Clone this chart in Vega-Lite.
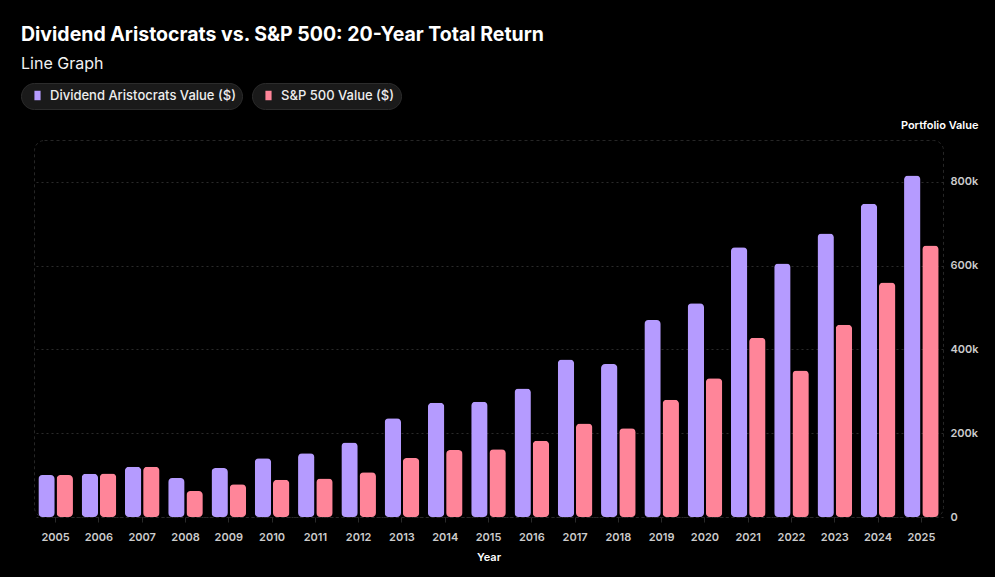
{
  "$schema": "https://vega.github.io/schema/vega-lite/v6.json",
  "width": 909,
  "height": 377,
  "autosize": {"type": "none"},
  "padding": {"left": 34, "top": 140, "right": 52, "bottom": 60},
  "background": "#000000",
  "title": {
    "text": "Dividend Aristocrats vs. S&P 500: 20-Year Total Return",
    "subtitle": "Line Graph",
    "anchor": "start",
    "frame": "group",
    "offset": 10,
    "dx": -13,
    "font": "Inter",
    "fontSize": 19.5,
    "fontWeight": "bold",
    "color": "#ffffff",
    "subtitleFont": "Inter",
    "subtitleFontSize": 16,
    "subtitleColor": "#f2f2f2",
    "subtitlePadding": 10
  },
  "data": {
    "values": [
      {"year": "2005", "series": "Dividend Aristocrats Value ($)", "value": 100000},
      {"year": "2005", "series": "S&P 500 Value ($)", "value": 100000},
      {"year": "2006", "series": "Dividend Aristocrats Value ($)", "value": 103000},
      {"year": "2006", "series": "S&P 500 Value ($)", "value": 104000},
      {"year": "2007", "series": "Dividend Aristocrats Value ($)", "value": 120000},
      {"year": "2007", "series": "S&P 500 Value ($)", "value": 120000},
      {"year": "2008", "series": "Dividend Aristocrats Value ($)", "value": 93000},
      {"year": "2008", "series": "S&P 500 Value ($)", "value": 62000},
      {"year": "2009", "series": "Dividend Aristocrats Value ($)", "value": 117000},
      {"year": "2009", "series": "S&P 500 Value ($)", "value": 78000},
      {"year": "2010", "series": "Dividend Aristocrats Value ($)", "value": 140000},
      {"year": "2010", "series": "S&P 500 Value ($)", "value": 89000},
      {"year": "2011", "series": "Dividend Aristocrats Value ($)", "value": 152000},
      {"year": "2011", "series": "S&P 500 Value ($)", "value": 92000},
      {"year": "2012", "series": "Dividend Aristocrats Value ($)", "value": 178000},
      {"year": "2012", "series": "S&P 500 Value ($)", "value": 107000},
      {"year": "2013", "series": "Dividend Aristocrats Value ($)", "value": 236000},
      {"year": "2013", "series": "S&P 500 Value ($)", "value": 141000},
      {"year": "2014", "series": "Dividend Aristocrats Value ($)", "value": 273000},
      {"year": "2014", "series": "S&P 500 Value ($)", "value": 160000},
      {"year": "2015", "series": "Dividend Aristocrats Value ($)", "value": 275000},
      {"year": "2015", "series": "S&P 500 Value ($)", "value": 162000},
      {"year": "2016", "series": "Dividend Aristocrats Value ($)", "value": 307000},
      {"year": "2016", "series": "S&P 500 Value ($)", "value": 182000},
      {"year": "2017", "series": "Dividend Aristocrats Value ($)", "value": 376000},
      {"year": "2017", "series": "S&P 500 Value ($)", "value": 223000},
      {"year": "2018", "series": "Dividend Aristocrats Value ($)", "value": 365000},
      {"year": "2018", "series": "S&P 500 Value ($)", "value": 212000},
      {"year": "2019", "series": "Dividend Aristocrats Value ($)", "value": 470000},
      {"year": "2019", "series": "S&P 500 Value ($)", "value": 280000},
      {"year": "2020", "series": "Dividend Aristocrats Value ($)", "value": 510000},
      {"year": "2020", "series": "S&P 500 Value ($)", "value": 331000},
      {"year": "2021", "series": "Dividend Aristocrats Value ($)", "value": 644000},
      {"year": "2021", "series": "S&P 500 Value ($)", "value": 428000},
      {"year": "2022", "series": "Dividend Aristocrats Value ($)", "value": 605000},
      {"year": "2022", "series": "S&P 500 Value ($)", "value": 350000},
      {"year": "2023", "series": "Dividend Aristocrats Value ($)", "value": 677000},
      {"year": "2023", "series": "S&P 500 Value ($)", "value": 459000},
      {"year": "2024", "series": "Dividend Aristocrats Value ($)", "value": 748000},
      {"year": "2024", "series": "S&P 500 Value ($)", "value": 560000},
      {"year": "2025", "series": "Dividend Aristocrats Value ($)", "value": 815000},
      {"year": "2025", "series": "S&P 500 Value ($)", "value": 648000}
    ]
  },
  "encoding": {
    "x": {
      "field": "year",
      "type": "ordinal",
      "scale": {"paddingInner": 0.2, "paddingOuter": 0.1},
      "axis": {
        "title": "Year",
        "labelAngle": 0,
        "domain": false,
        "tickColor": "#2a2a2a",
        "tickSize": 5,
        "labelPadding": 9,
        "labelColor": "#cccccc",
        "labelFont": "Inter",
        "labelFontSize": 11,
        "labelFontWeight": 600,
        "titleFont": "Inter",
        "titleFontSize": 11,
        "titleFontWeight": 600,
        "titleColor": "#ffffff",
        "titlePadding": 9
      }
    },
    "xOffset": {
      "field": "series",
      "type": "nominal",
      "scale": {"domain": ["Dividend Aristocrats Value ($)", "S&P 500 Value ($)"], "paddingInner": 0.1}
    },
    "y": {
      "field": "value",
      "type": "quantitative",
      "scale": {"domain": [0, 900000], "nice": false},
      "axis": {
        "orient": "right",
        "values": [0, 200000, 400000, 600000, 800000],
        "labelExpr": "datum.value == 0 ? '0' : format(datum.value / 1000, 'd') + 'k'",
        "domain": false,
        "ticks": false,
        "grid": true,
        "gridColor": "#2a2a2a",
        "gridDash": [2, 3],
        "labelPadding": 7,
        "labelColor": "#cccccc",
        "labelFont": "Inter",
        "labelFontSize": 11,
        "labelFontWeight": 600,
        "title": "Portfolio Value",
        "titleAngle": 0,
        "titleAlign": "right",
        "titleBaseline": "middle",
        "titleX": 35,
        "titleY": -15,
        "titleFont": "Inter",
        "titleFontSize": 11,
        "titleFontWeight": 600,
        "titleColor": "#ffffff"
      }
    }
  },
  "layer": [
    {
      "transform": [{"filter": "datum.series === 'Dividend Aristocrats Value ($)'"}],
      "mark": {"type": "bar", "cornerRadius": 4},
      "encoding": {
        "color": {
          "field": "series",
          "type": "nominal",
          "scale": {"domain": ["Dividend Aristocrats Value ($)"], "range": ["#b59bff"]},
          "legend": {"title": null, "orient": "none", "legendX": -13, "legendY": -57}
        }
      }
    },
    {
      "transform": [{"filter": "datum.series === 'S&P 500 Value ($)'"}],
      "mark": {"type": "bar", "cornerRadius": 4},
      "encoding": {
        "color": {
          "field": "series",
          "type": "nominal",
          "scale": {"domain": ["S&P 500 Value ($)"], "range": ["#ff8599"]},
          "legend": {"title": null, "orient": "none", "legendX": 218, "legendY": -57}
        }
      }
    }
  ],
  "resolve": {"scale": {"color": "independent"}, "legend": {"color": "independent"}},
  "config": {
    "view": {"stroke": "#262626", "strokeDash": [3, 3], "cornerRadius": 10},
    "legend": {
      "fillColor": "#1a1a1a",
      "strokeColor": "#2c2c2c",
      "cornerRadius": 13,
      "padding": 6,
      "symbolType": "M-0.65,-1H0.65V1H-0.65Z",
      "symbolSize": 90,
      "symbolStrokeWidth": 0,
      "symbolOffset": 4,
      "labelColor": "#eeeeee",
      "labelFont": "Inter",
      "labelFontSize": 13,
      "labelFontWeight": 500,
      "labelOffset": 6,
      "labelLimit": 400
    }
  }
}
